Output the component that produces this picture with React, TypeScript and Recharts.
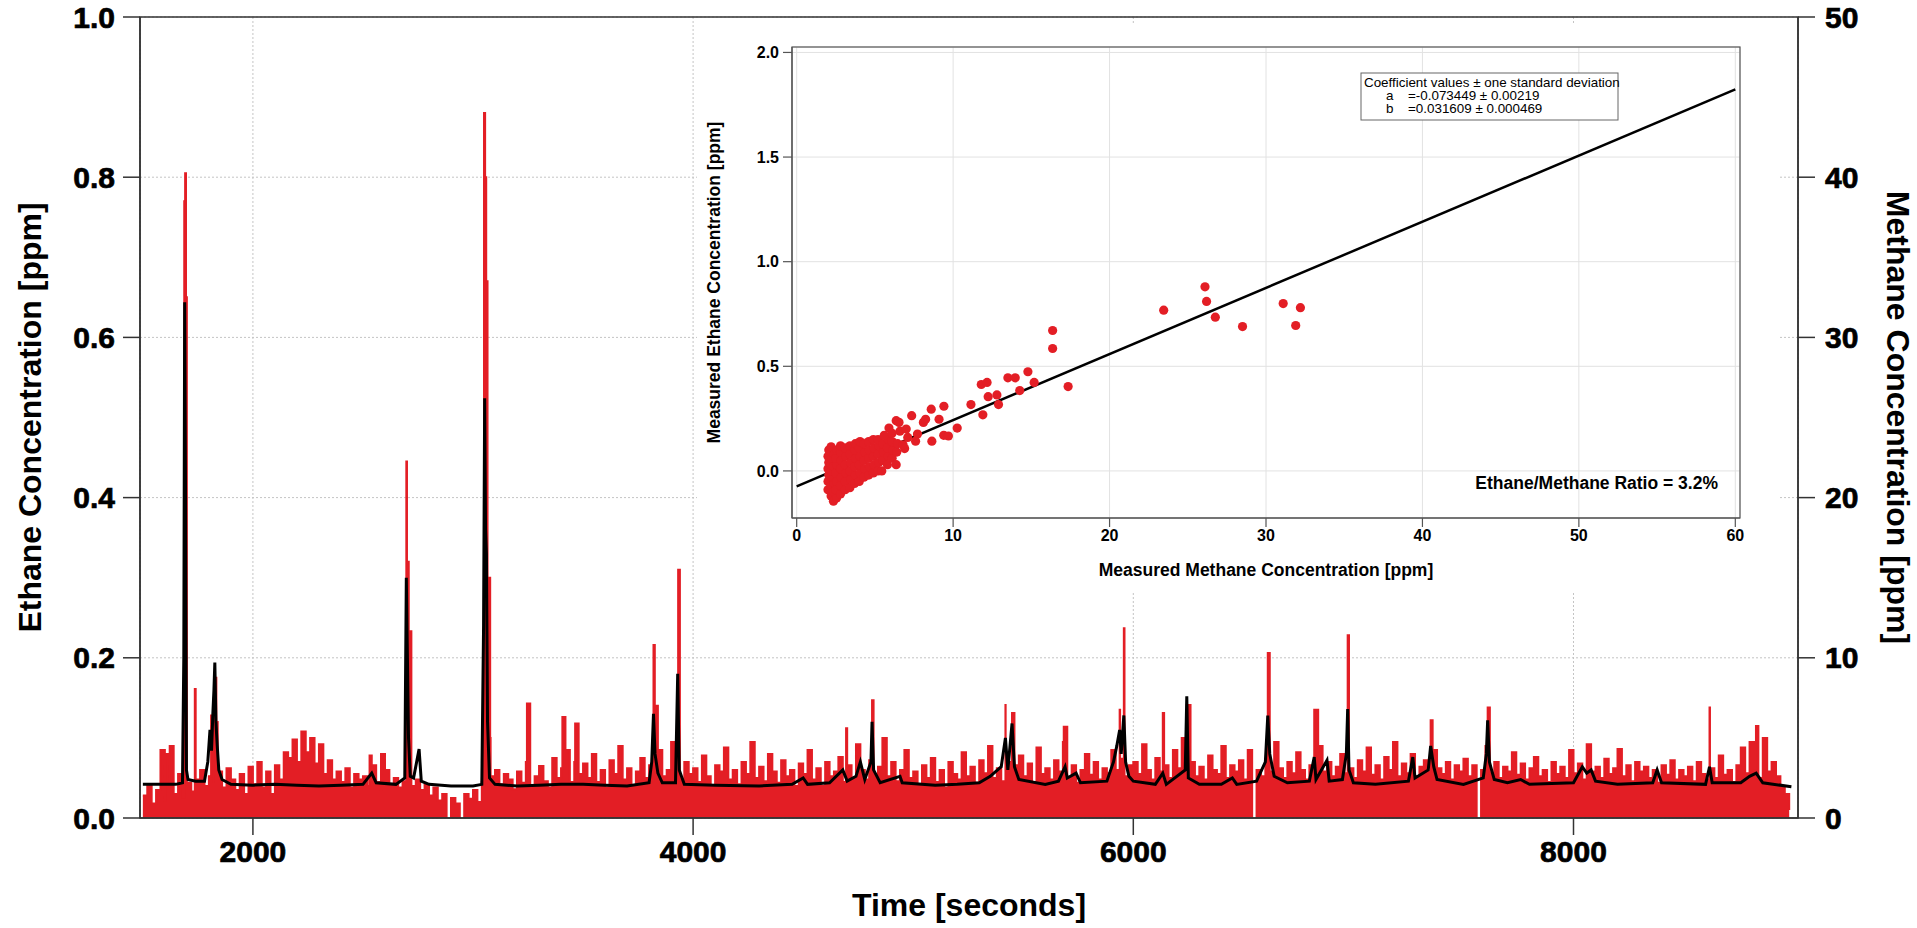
import React from 'react';
import { ComposedChart, Area, Line, Scatter, XAxis, YAxis, CartesianGrid } from 'recharts';

const W = 1917;
const H = 928;
const FONT = "'Liberation Sans', Arial, Helvetica, sans-serif";
const RED = '#e31e25';

// ---- main time series ----
const timeDomain = [1487, 9020];
const timeTicks = [2000, 4000, 6000, 8000];
const ethaneTicks = [0, 0.2, 0.4, 0.6, 0.8, 1.0];
const methaneTicks = [0, 10, 20, 30, 40, 50];

// ethane background, ppb, one reading every 20 s starting at 1500 s
const ethaneStart = 1500;
const ethaneStep = 20;
const ethaneNoisePpb = [
  28, 42, 18, 35, 50, 22, 38, 30, 55, 26, 44, 33, 48, 60, 40, 52, 45, 58, 38, 62, 48, 35, 55, 30, 64,
  42, 70, 38, 58, 30, 66, 48, 82, 75, 98, 70, 108, 82, 100, 68, 92, 55, 72, 48, 58, 45, 62, 38, 55, 48,
  52, 40, 66, 45, 35, 60, 42, 50, 38, 46, 55, 40, 48, 35, 42, 28, 38, 22, 30, -15, 25, 18, -20, 30, 24,
  35, 20, 45, 38, 52, 60, 42, 55, 48, 36, 58, 44, 70, 40, 52, 65, 46, 38, 75, 50, 62, 85, 45, 70, 55,
  68, 50, 80, 45, 60, 38, 72, 55, 90, 48, 62, 40, 58, 75, 50, 66, 44, 85, 52, 60, 95, 58, 48, 70, 55,
  62, 45, 78, 52, 40, 66, 58, 88, 48, 60, 42, 70, 55, 95, 50, 64, 46, 80, 58, 44, 72, 52, 60, 40, 68,
  55, 85, 48, 62, 40, 70, 52, 58, 76, 45, 66, 50, 92, 60, 48, 72, 55, 64, 100, 52, 70, 46, 60, 85, 50,
  58, 42, 66, 50, 75, 45, 60, 38, 70, 55, 48, 82, 52, 64, 44, 72, 56, 90, 50, 62, 46, 70, 54, 66, 78,
  52, 68, 45, 88, 55, 62, 48, 72, 58, 95, 50, 66, 44, 60, 80, 54, 70, 48, 62, 56, 85, 60, 74, 52, 66,
  70, 55, 92, 60, 48, 75, 58, 66, 50, 85, 62, 100, 56, 70, 52, 64, 48, 78, 60, 55, 90, 50, 66, 58, 72,
  48, 85, -10, 60, 52, 74, 58, 95, 62, 50, 70, 56, 82, 60, 48, 66, 54, 90, 58, 70, 52, 64, 80, 56, 62,
  50, 72, 58, 88, 54, 66, 48, 76, 60, 95, 52, 68, 56, 80, 50, 64, 72, 58, 85, 62, 55, 70, 48, 66, 58,
  74, 52, 66, -12, 60, 90, 56, 70, 50, 64, 58, 82, 54, 68, 48, 62, 76, 52, 60, 45, 70, 55, 64, 50, 85,
  56, 68, 48, 92, 58, 64, 50, 74, 55, 62, 86, 52, 66, 46, 70, 58, 64, 50, 60, 44, 66, 54, 72, 48, 60,
  52, 64, 46, 70, 55, 48, 62, 50, 78, 54, 60, 45, 66, 88, 56, 95, 62, 50, 100, 58, 70, 52, 40, 30, 10,
];

// ethane plume peaks [time s, ppm]
const ethanePeaks = [
  [1580, 0.085], [1604, 0.08], [1622, 0.09], [1688, 0.77], [1692, 0.805], [1696, 0.65],
  [1736, 0.161], [1810, 0.128], [1822, 0.15], [1827, 0.175], [1834, 0.12],
  [2530, 0.078], [2582, 0.08], [2697, 0.445], [2703, 0.32], [2708, 0.233],
  [3050, 0.88], [3055, 0.8], [3060, 0.67], [3066, 0.3], [3078, 0.1],
  [3245, 0.143], [3406, 0.126], [3464, 0.118], [3820, 0.216], [3826, 0.14], [3932, 0.31],
  [4695, 0.112], [4813, 0.147], [5419, 0.141], [5449, 0.131], [5684, 0.114],
  [5938, 0.135], [5957, 0.237], [6134, 0.131], [6243, 0.141], [6611, 0.206],
  [6822, 0.135], [6974, 0.228], [7351, 0.122], [7610, 0.138], [8618, 0.138], [8829, 0.115],
];

// methane [time s, ppm]
const methaneTrace = [
  [1500, 2.1], [1600, 2.1], [1650, 2.1], [1680, 2.2], [1686, 10], [1690, 32.2], [1694, 20], [1698, 3],
  [1705, 2.4], [1740, 2.3], [1780, 2.3], [1795, 3.5], [1805, 5.5], [1812, 4.2], [1818, 6.5], [1823, 8],
  [1827, 9.7], [1832, 6], [1838, 4.5], [1845, 3], [1860, 2.4], [1900, 2.1], [2000, 2.05], [2100, 2.1],
  [2200, 2.05], [2300, 2.0], [2400, 2.05], [2500, 2.1], [2540, 2.8], [2560, 2.2], [2650, 2.1], [2690, 2.5],
  [2697, 15], [2702, 10], [2707, 5], [2715, 2.6], [2730, 2.5], [2755, 4.3], [2765, 2.3], [2800, 2.1],
  [2900, 2.0], [3000, 2.0], [3040, 2.1], [3048, 12], [3053, 26.2], [3057, 18], [3061, 16.5], [3066, 6],
  [3075, 2.5], [3100, 2.1], [3200, 2.0], [3300, 2.05], [3400, 2.1], [3500, 2.1], [3600, 2.05], [3700, 2.0],
  [3800, 2.2], [3812, 3.5], [3820, 6.5], [3827, 4], [3840, 2.8], [3860, 2.2], [3920, 2.2], [3930, 9],
  [3937, 3], [3960, 2.1], [4100, 2.05], [4300, 2.0], [4450, 2.1], [4500, 2.5], [4520, 2.1], [4620, 2.2],
  [4680, 3.0], [4700, 2.3], [4740, 2.6], [4760, 3.5], [4780, 2.4], [4808, 3.5], [4813, 6], [4820, 3],
  [4850, 2.2], [4940, 2.6], [4950, 2.2], [5100, 2.05], [5200, 2.1], [5300, 2.2], [5350, 2.6], [5400, 3.2],
  [5419, 5], [5430, 3], [5449, 5.9], [5460, 3.2], [5480, 2.4], [5600, 2.1], [5660, 2.3], [5690, 3.2],
  [5700, 2.5], [5740, 2.8], [5760, 2.2], [5880, 2.3], [5910, 3.5], [5925, 4.5], [5938, 5.5], [5945, 4],
  [5957, 6.4], [5965, 3.5], [5980, 2.6], [6000, 2.3], [6100, 2.1], [6134, 2.8], [6150, 2.1], [6236, 3],
  [6243, 7.6], [6250, 2.5], [6300, 2.1], [6400, 2.1], [6450, 2.5], [6470, 2.1], [6560, 2.3], [6600, 3.5],
  [6611, 6.4], [6620, 4], [6640, 2.6], [6700, 2.2], [6800, 2.3], [6822, 3.8], [6830, 2.4], [6880, 3.6],
  [6890, 2.3], [6950, 2.4], [6968, 4], [6974, 6.8], [6980, 3], [7000, 2.2], [7100, 2.1], [7250, 2.3],
  [7270, 3.8], [7280, 2.5], [7340, 3], [7351, 4.5], [7365, 3.2], [7380, 2.4], [7500, 2.1], [7590, 2.5],
  [7604, 4], [7610, 6.1], [7618, 3.5], [7640, 2.4], [7700, 2.2], [7760, 2.4], [7800, 2.1], [8000, 2.2],
  [8040, 3.2], [8060, 2.8], [8080, 3.0], [8100, 2.3], [8200, 2.1], [8360, 2.2], [8380, 3.0], [8400, 2.2],
  [8600, 2.1], [8618, 3.2], [8630, 2.2], [8760, 2.2], [8800, 2.6], [8830, 2.8], [8860, 2.2], [8990, 1.95],
];

// ---- inset: ethane vs methane scatter ----
const insetXTicks = [0, 10, 20, 30, 40, 50, 60];
const insetYTicks = [0, 0.5, 1.0, 1.5, 2.0];
const fitA = -0.073449;
const fitB = 0.031609;
const fitRange = [0, 60];

const denseCluster = [
  [2.0, -0.09], [2.0, -0.05], [2.05, -0.02], [2.0, 0.01], [2.05, 0.04], [2.0, 0.07], [2.05, 0.1],
  [2.2, -0.12], [2.2, -0.07], [2.25, -0.03], [2.2, 0.0], [2.2, 0.03], [2.25, 0.06], [2.2, 0.09], [2.2, 0.115],
  [2.35, -0.145], [2.35, -0.1], [2.4, -0.06], [2.35, 0.02], [2.4, 0.08],
  [2.55, -0.13], [2.5, -0.09], [2.55, -0.05], [2.5, -0.01], [2.55, 0.03], [2.5, 0.06], [2.55, 0.1],
  [2.8, -0.11], [2.8, -0.07], [2.85, -0.03], [2.8, 0.01], [2.85, 0.05], [2.8, 0.09], [2.8, 0.12],
  [3.1, -0.09], [3.1, -0.05], [3.15, -0.01], [3.1, 0.03], [3.15, 0.07], [3.1, 0.11],
  [3.4, -0.08], [3.45, -0.04], [3.4, 0.0], [3.45, 0.04], [3.4, 0.08], [3.4, 0.12],
  [3.7, -0.06], [3.75, -0.02], [3.7, 0.02], [3.75, 0.06], [3.7, 0.1], [3.75, 0.13],
  [4.0, -0.05], [4.05, -0.01], [4.0, 0.03], [4.05, 0.07], [4.0, 0.11], [4.05, 0.14],
  [4.3, -0.03], [4.35, 0.01], [4.3, 0.05], [4.35, 0.09], [4.3, 0.13],
  [4.6, -0.02], [4.65, 0.02], [4.6, 0.06], [4.65, 0.1], [4.6, 0.14],
  [4.9, -0.01], [4.95, 0.03], [4.9, 0.07], [4.95, 0.11], [4.9, 0.15],
  [5.2, 0.0], [5.25, 0.04], [5.2, 0.08], [5.25, 0.12], [5.2, 0.15],
  [5.5, 0.05], [5.55, 0.09], [5.5, 0.13],
  [5.8, 0.03], [5.85, 0.07], [5.8, 0.11], [5.85, 0.15],
  [6.1, 0.06], [6.15, 0.1], [6.1, 0.14], [6.4, 0.09], [6.45, 0.13],
];

const plumePoints = [
  [5.9, 0.205], [6.36, 0.24], [6.54, 0.232], [6.9, 0.107], [6.36, 0.03], [5.44, 0.0], [6.8, 0.125],
  [7.1, 0.16], [6.6, 0.19], [7.0, 0.2], [5.6, 0.17], [6.1, 0.18],
  [7.35, 0.264], [7.6, 0.142], [7.72, 0.176], [8.1, 0.232], [8.24, 0.247], [8.6, 0.295], [8.64, 0.142],
  [9.1, 0.247], [9.41, 0.309], [9.4, 0.17], [9.7, 0.167], [10.26, 0.205], [11.14, 0.317], [11.8, 0.413],
  [11.9, 0.268], [12.17, 0.423], [12.24, 0.355], [12.8, 0.363], [12.9, 0.317], [13.5, 0.445],
  [13.97, 0.445], [14.26, 0.384], [14.78, 0.474], [15.18, 0.423], [16.36, 0.671], [16.36, 0.585],
  [17.35, 0.403], [23.46, 0.768], [26.1, 0.88], [26.2, 0.81], [26.76, 0.735], [28.5, 0.69],
  [31.1, 0.8], [31.9, 0.695], [32.2, 0.78],
];

// layout (page pixels)
const MAIN = { left: 140, right: 1798, top: 17, bottom: 818 };
const INSET_BG = { left: 697, top: 25, width: 1083, height: 567 };
const INSET = { left: 792, right: 1740, top: 47, bottom: 518 };

const mainData = (() => {
  const rows: any[] = ethaneNoisePpb.map((v, i) => ({ t: ethaneStart + i * ethaneStep, eth: v / 1000 }));
  ethanePeaks.forEach(([t, v]) => rows.push({ t, eth: v }));
  methaneTrace.forEach(([t, v]) => rows.push({ t, meth: v }));
  return rows.sort((a, b) => a.t - b.t);
})();

const scatterData = [...denseCluster, ...plumePoints].map(([x, y]) => ({ x, y }));
const fitData = fitRange.map((x) => ({ x, y: fitA + fitB * x }));

const mainTick = { fill: '#000', fontSize: 30, fontWeight: 700, fontFamily: FONT, stroke: '#000', strokeWidth: 0.7 };
const insetTick = { fill: '#000', fontSize: 16, fontWeight: 700, fontFamily: FONT };
const mainLine = { stroke: '#333', strokeWidth: 1.5 };
const insetLine = { stroke: '#555', strokeWidth: 1.2 };

const Dot = (p: any) => <circle cx={p.cx} cy={p.cy} r={4.6} fill={RED} />;

export default function App() {
  const insetW = INSET_BG.width;
  const insetH = INSET_BG.height;
  const iLeft = INSET.left - INSET_BG.left;
  const iTop = INSET.top - INSET_BG.top;
  const iRight = INSET_BG.left + insetW - INSET.right;
  const iBottom = INSET_BG.top + insetH - INSET.bottom;
  const midY = (MAIN.top + MAIN.bottom) / 2;
  const insetMidY = (INSET.top + INSET.bottom) / 2;

  return (
    <div style={{ position: 'absolute', left: 0, top: 0, width: W, height: H, background: '#fff', fontFamily: FONT }}>
      <div style={{ position: 'absolute', left: 0, top: 0 }}>
        <ComposedChart
          width={W}
          height={H}
          data={mainData}
          margin={{ top: MAIN.top, right: W - MAIN.right - 100, bottom: H - MAIN.bottom - 60, left: MAIN.left - 100 }}
        >
          <CartesianGrid xAxisId="time" yAxisId="eth" stroke="#c4c4c4" strokeDasharray="2 2" />
          <XAxis
            xAxisId="time"
            dataKey="t"
            type="number"
            domain={timeDomain}
            ticks={timeTicks}
            allowDataOverflow
            height={60}
            tickSize={17}
            tickMargin={6}
            tick={mainTick}
            axisLine={mainLine}
            tickLine={mainLine}
          />
          <YAxis
            yAxisId="eth"
            orientation="left"
            type="number"
            domain={[0, 1]}
            ticks={ethaneTicks}
            allowDataOverflow
            tickFormatter={(v: number) => v.toFixed(1)}
            width={100}
            tickSize={17}
            tickMargin={8}
            tick={mainTick}
            axisLine={mainLine}
            tickLine={mainLine}
          />
          <YAxis
            yAxisId="meth"
            orientation="right"
            type="number"
            domain={[0, 50]}
            ticks={methaneTicks}
            allowDataOverflow
            width={100}
            tickSize={17}
            tickMargin={10}
            tick={mainTick}
            axisLine={mainLine}
            tickLine={mainLine}
          />
          <Area
            xAxisId="time"
            yAxisId="eth"
            dataKey="eth"
            type="stepAfter"
            connectNulls
            stroke={RED}
            strokeWidth={2}
            fill={RED}
            fillOpacity={1}
            dot={false}
            activeDot={false}
            isAnimationActive={false}
          />
          <Line
            xAxisId="time"
            yAxisId="meth"
            dataKey="meth"
            type="linear"
            connectNulls
            stroke="#000"
            strokeWidth={3}
            dot={false}
            activeDot={false}
            isAnimationActive={false}
          />
        </ComposedChart>
      </div>

      <div style={{ position: 'absolute', left: INSET_BG.left, top: INSET_BG.top, width: insetW, height: insetH, background: '#fff' }}>
        <ComposedChart width={insetW} height={insetH} margin={{ top: iTop, right: iRight, bottom: iBottom - 50, left: iLeft - 60 }}>
          <CartesianGrid stroke="#e2e2e2" />
          <XAxis
            dataKey="x"
            type="number"
            domain={[-0.3, 60.3]}
            ticks={insetXTicks}
            allowDataOverflow
            height={50}
            tickSize={9}
            tickMargin={3}
            tick={insetTick}
            axisLine={insetLine}
            tickLine={insetLine}
          />
          <YAxis
            dataKey="y"
            type="number"
            domain={[-0.225, 2.026]}
            ticks={insetYTicks}
            allowDataOverflow
            tickFormatter={(v: number) => v.toFixed(1)}
            width={60}
            tickSize={9}
            tickMargin={4}
            tick={insetTick}
            axisLine={insetLine}
            tickLine={insetLine}
          />
          <Scatter data={scatterData} shape={Dot} isAnimationActive={false} />
          <Line data={fitData} dataKey="y" type="linear" stroke="#000" strokeWidth={2.5} dot={false} activeDot={false} isAnimationActive={false} />
        </ComposedChart>
      </div>

      <svg width={W} height={H} style={{ position: 'absolute', left: 0, top: 0, pointerEvents: 'none' }} fontFamily={FONT}>
        <rect x={MAIN.left} y={MAIN.top} width={MAIN.right - MAIN.left} height={MAIN.bottom - MAIN.top} fill="none" stroke="#333" strokeWidth={1.5} />
        <rect x={INSET.left} y={INSET.top} width={INSET.right - INSET.left} height={INSET.bottom - INSET.top} fill="none" stroke="#555" strokeWidth={1.2} />

        <text x={30} y={midY} transform={`rotate(-90 30 ${midY})`} textAnchor="middle" dominantBaseline="central" fontSize={32} fontWeight={700}>
          Ethane Concentration [ppm]
        </text>
        <text x={1898} y={midY} transform={`rotate(90 1898 ${midY})`} textAnchor="middle" dominantBaseline="central" fontSize={32} fontWeight={700}>
          Methane Concentration [ppm]
        </text>
        <text x={(MAIN.left + MAIN.right) / 2} y={905} textAnchor="middle" dominantBaseline="central" fontSize={32} fontWeight={700}>
          Time [seconds]
        </text>

        <text x={714} y={insetMidY} transform={`rotate(-90 714 ${insetMidY})`} textAnchor="middle" dominantBaseline="central" fontSize={17.5} fontWeight={700}>
          Measured Ethane Concentration [ppm]
        </text>
        <text x={(INSET.left + INSET.right) / 2} y={570} textAnchor="middle" dominantBaseline="central" fontSize={17.5} fontWeight={700}>
          Measured Methane Concentration [ppm]
        </text>

        <rect x={1361} y={73} width={257} height={47} fill="#fff" stroke="#666" strokeWidth={1} />
        <text x={1364} y={87} fontSize={13.4}>Coefficient values ± one standard deviation</text>
        <text x={1386} y={100} fontSize={13.4}>a</text>
        <text x={1408} y={100} fontSize={13.4}>=-0.073449 ± 0.00219</text>
        <text x={1386} y={113} fontSize={13.4}>b</text>
        <text x={1408} y={113} fontSize={13.4}>=0.031609 ± 0.000469</text>

        <text x={1718} y={489} textAnchor="end" fontSize={17.5} fontWeight={700}>
          Ethane/Methane Ratio = 3.2%
        </text>
      </svg>
    </div>
  );
}
